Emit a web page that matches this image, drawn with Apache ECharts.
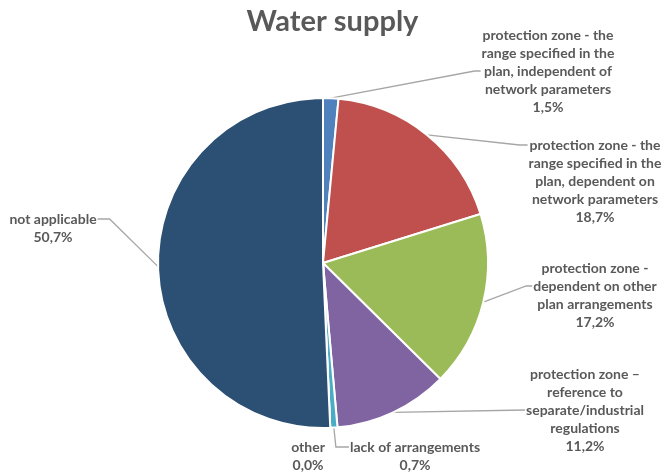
<!DOCTYPE html>
<html>
<head>
<meta charset="utf-8">
<script src="https://cdn.jsdelivr.net/npm/echarts@6/dist/echarts.min.js"></script>
<style>html,body{margin:0;padding:0;background:#fff;}#c{width:665px;height:473px;}</style>
</head>
<body>
<div id="c"></div>
<script>
var title = 'Water supply';
var categories = [
  'protection zone - the\nrange specified in the\nplan, independent of\nnetwork parameters',
  'protection zone - the\nrange specified in the\nplan, dependent on\nnetwork parameters',
  'protection zone -\ndependent on other\nplan arrangements',
  'protection zone \u2013\nreference to\nseparate/industrial\nregulations',
  'lack of arrangements',
  'other',
  'not applicable'
];
var values = [1.5, 18.7, 17.2, 11.2, 0.7, 0.0, 50.7];
var colors = ['#4F81BD', '#C0504D', '#9BBB59', '#8064A2', '#4BACC6', '#F79646', '#2C5074'];

// label placement (style only): centre of label block, which line the leader meets, side
var labelPlace = [
  {x: 548, y: 71, line: 2, side: 'left', elbow: 6},
  {x: 595, y: 181, line: 0, side: 'left', elbow: 8},
  {x: 595, y: 295, line: 1, side: 'left', elbow: 6},
  {x: 585, y: 410, line: 2, side: 'left', elbow: 0},
  {x: 415, y: 456, line: 0, side: 'down', elbow: 0},
  {x: 308, y: 456, line: 0, side: 'none', elbow: 0},
  {x: 53, y: 228, line: 0, side: 'right', elbow: 12}
];
var LH = 18;

var chart = echarts.init(document.getElementById('c'));
var data = categories.map(function (c, i) {
  return {name: c, value: values[i], itemStyle: {color: colors[i]},
          labelLine: {show: labelPlace[i].side !== 'none'}};
});

chart.setOption({
  animation: false,
  title: {
    text: title, left: 'center', top: 2,
    textStyle: {fontFamily: 'Lato', fontWeight: 'bold', fontSize: 29, color: '#595959'}
  },
  series: [{
    type: 'pie',
    center: [323, 263],
    radius: 165,
    startAngle: 90,
    clockwise: true,
    avoidLabelOverlap: false,
    data: data,
    itemStyle: {borderColor: '#fff', borderWidth: 2},
    label: {
      show: true,
      position: 'outside',
      fontFamily: 'Lato', fontWeight: 'bold', fontSize: 14, color: '#595959',
      lineHeight: LH, align: 'center',
      formatter: function (p) {
        return p.name + '\n' + p.value.toFixed(1).replace('.', ',') + '%';
      }
    },
    labelLine: {show: true, length: 10, length2: 10, lineStyle: {color: '#A6A6A6', width: 1.3}},
    labelLayout: function (p) {
      var cfg = labelPlace[p.dataIndex];
      var w = p.labelRect.width, h = p.labelRect.height;
      var out = {x: cfg.x, y: cfg.y, align: 'center', verticalAlign: 'middle'};
      if (p.labelLinePoints && cfg.side !== 'none') {
        var s = p.labelLinePoints[0];
        var top = cfg.y - h / 2;
        var ly = top + LH * (cfg.line + 0.5);
        var pts;
        if (cfg.side === 'left') {
          var lx = cfg.x - w / 2 - 1;
          pts = [s, [lx - cfg.elbow, ly], [lx, ly]];
        } else if (cfg.side === 'right') {
          var rx = cfg.x + w / 2 + 1;
          pts = [s, [rx + cfg.elbow, ly], [rx, ly]];
        } else {
          var lx2 = cfg.x - w / 2 - 1;
          pts = [s, [s[0] + 2, ly], [lx2, ly]];
        }
        out.labelLinePoints = pts;
      }
      return out;
    }
  }]
});
</script>
</body>
</html>
